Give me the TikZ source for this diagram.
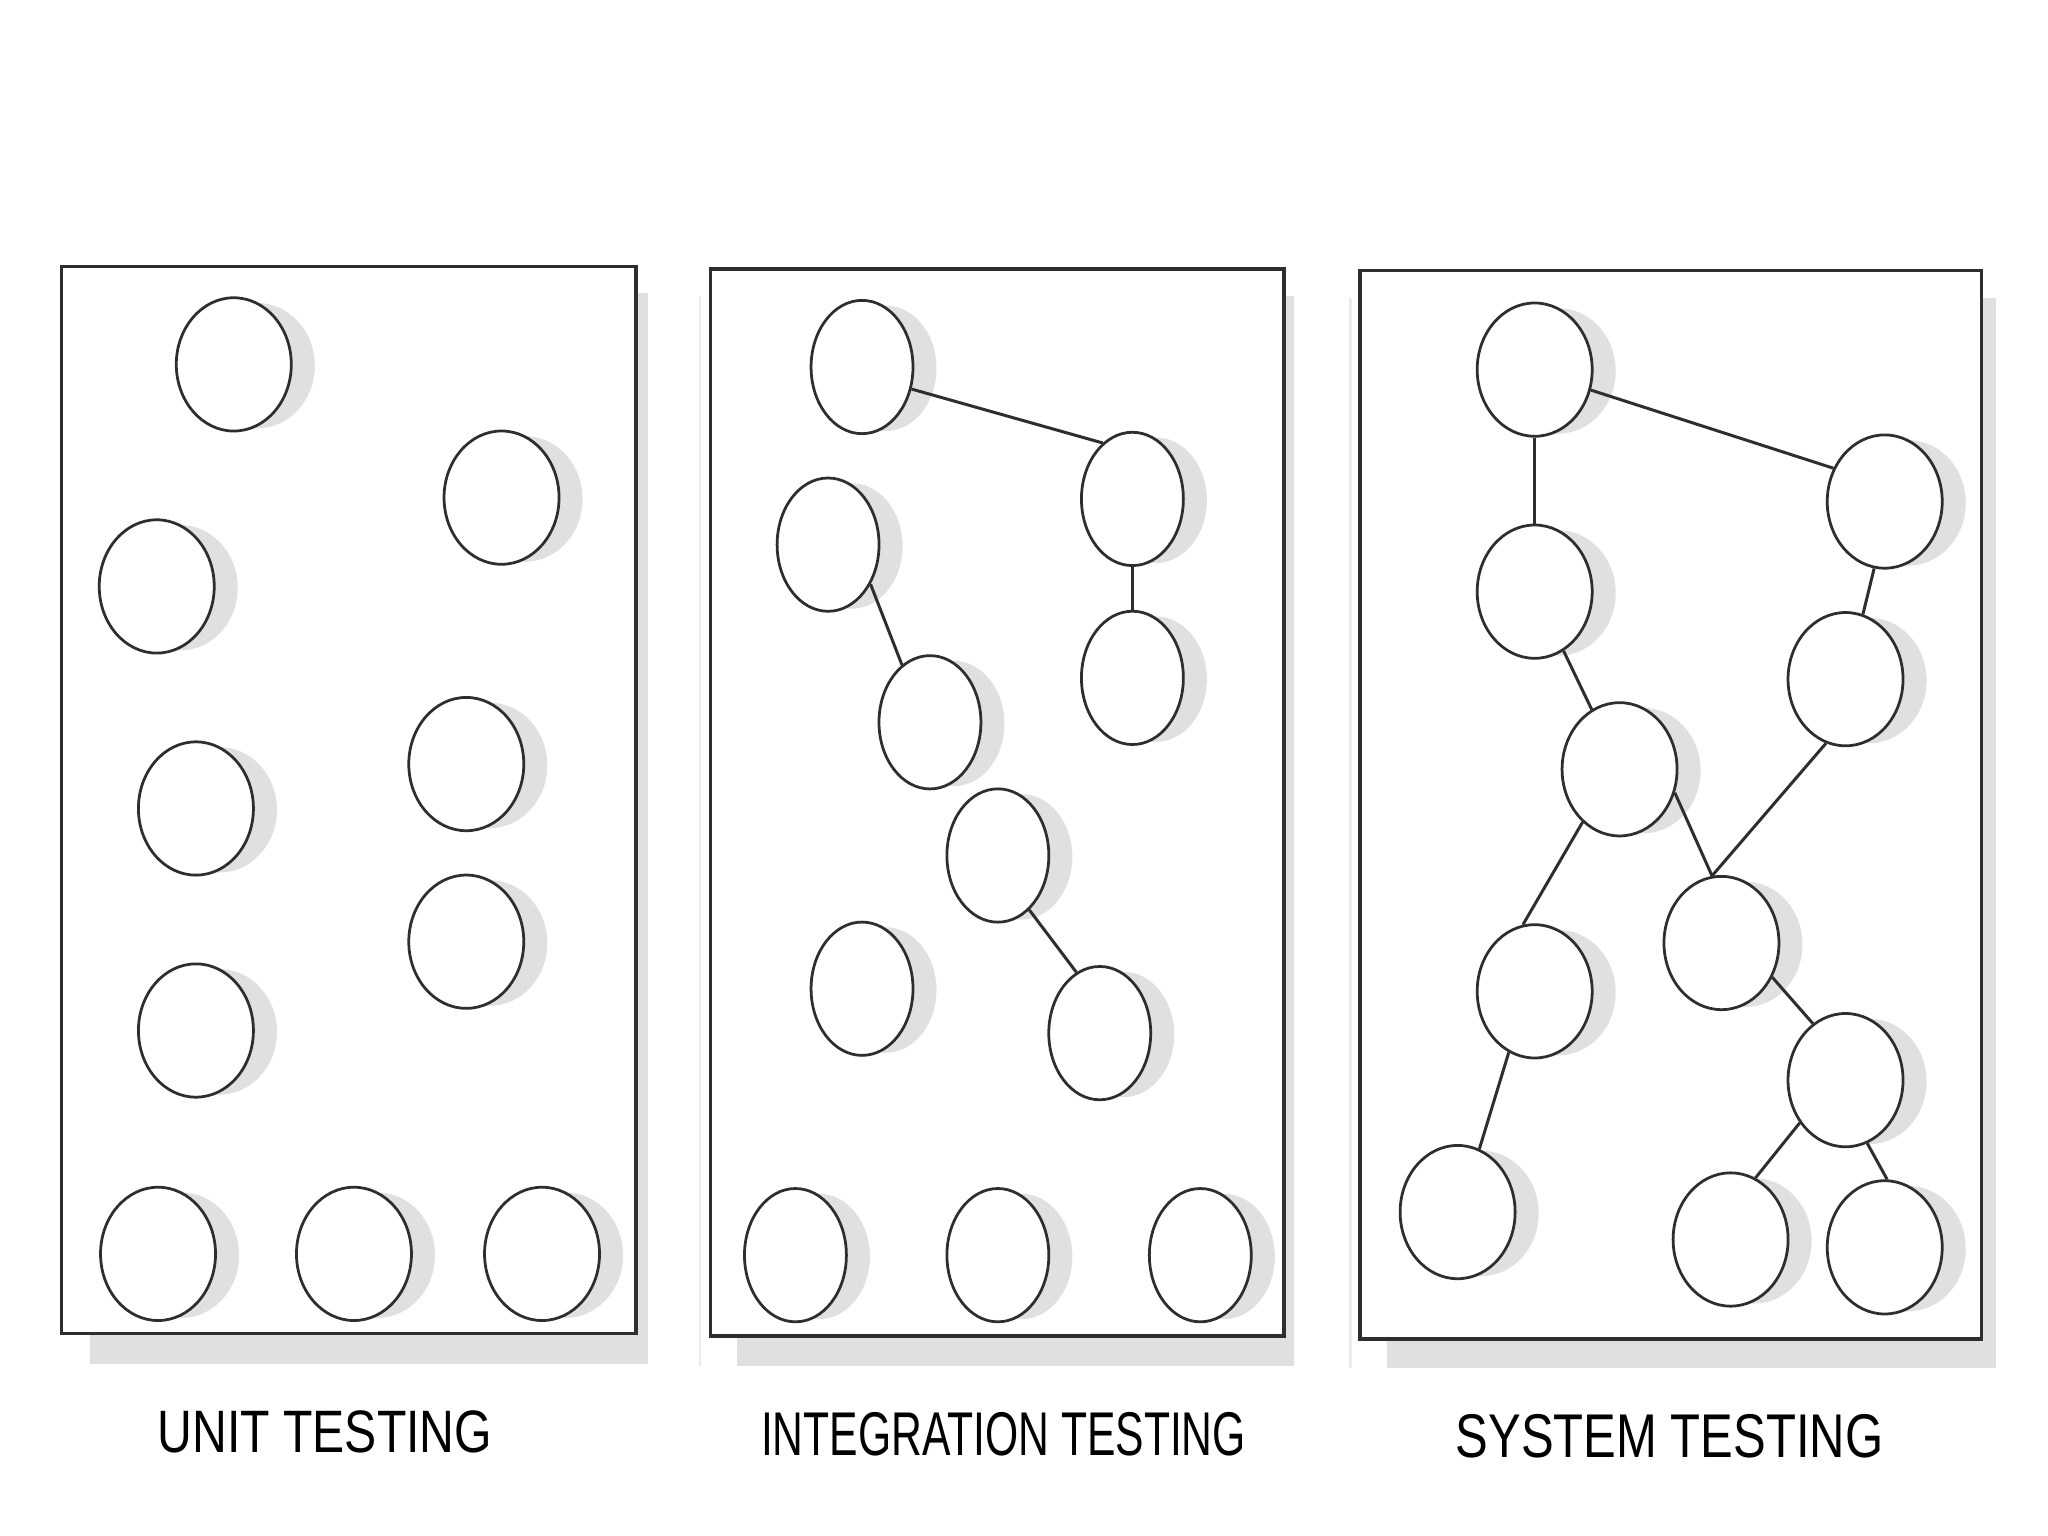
\documentclass[tikz,border=0pt]{standalone}
\usepackage{graphicx}
\usepackage{fontspec}
\setsansfont{Liberation Sans}
\usetikzlibrary{shapes.geometric}
\definecolor{shadowgray}{HTML}{E0E0E0}
\definecolor{ink}{HTML}{2E2E2E}
\newcommand\bubble[5][0.44]{%
  \fill[shadowgray] (#4+18,#5+1) ellipse [x radius=#1cm, y radius=0.48cm];
  \node[#2] (#3) at (#4,#5) {};}
\begin{document}
\begin{tikzpicture}[x=0.01cm,y=-0.01cm,
  frame/.style={draw=ink,line width=0.8pt,fill=white},
  nd/.style={ellipse,draw=ink,line width=0.6pt,fill=white,minimum width=0.88cm,minimum height=1.02cm,inner sep=0pt},
  nn/.style={nd,minimum width=0.78cm},
  link/.style={draw=ink,line width=0.65pt},
  lbl/.style={inner sep=0pt,anchor=base west}]

\useasboundingbox[fill=white] (0,0) rectangle (1568,1176);

% panel frames with shadows
\fill[shadowgray] (69,224) rectangle (496,1044);
\draw[frame] (47,204) rectangle (487,1021);

\draw[gray!15,line width=0.5pt] (536,227) -- (536,1046);
\fill[shadowgray] (564,227) rectangle (991,1046);
\draw[frame] (544,206) rectangle (983,1023);

\draw[gray!15,line width=0.5pt] (1034,228) -- (1034,1047);
\fill[shadowgray] (1062,228) rectangle (1528,1047);
\draw[frame] (1041,207) rectangle (1517,1025);

% panel 1: unit testing
\bubble{nd}{u1}{179}{279}
\bubble{nd}{u2}{384}{381}
\bubble{nd}{u3}{120}{449}
\bubble{nd}{u4}{357}{585}
\bubble{nd}{u5}{150}{619}
\bubble{nd}{u6}{357}{721}
\bubble{nd}{u7}{150}{789}
\bubble{nd}{u8}{121}{960}
\bubble{nd}{u9}{271}{960}
\bubble{nd}{u10}{415}{960}

% panel 2: integration testing
\bubble[0.39]{nn}{i1}{660}{281}
\bubble[0.39]{nn}{i2}{867}{382}
\bubble[0.39]{nn}{i3}{634}{417}
\bubble[0.39]{nn}{i4}{867}{519}
\bubble[0.39]{nn}{i5}{712}{553}
\bubble[0.39]{nn}{i6}{764}{655}
\bubble[0.39]{nn}{i7}{660}{757}
\bubble[0.39]{nn}{i8}{842}{791}
\bubble[0.39]{nn}{i9}{609}{961}
\bubble[0.39]{nn}{i10}{764}{961}
\bubble[0.39]{nn}{i11}{919}{961}

\draw[link] (i1.336) -- (i2.118);
\draw[link] (i2) -- (i4);
\draw[link] (i3.317) -- (i5.116);
\draw[link] (i6.300) -- (i8.111);

% panel 3: system testing
\bubble{nd}{sA}{1175}{283}
\bubble{nd}{sB}{1443}{384}
\bubble{nd}{sC}{1175}{453}
\bubble{nd}{sD}{1413}{520}
\bubble{nd}{sE}{1240}{589}
\bubble{nd}{sF}{1318}{722}
\bubble{nd}{sG}{1175}{759}
\bubble{nd}{sH}{1413}{827}
\bubble{nd}{sI}{1116}{928}
\bubble{nd}{sJ}{1325}{949}
\bubble{nd}{sK}{1443}{955}

\draw[link] (sA.340) -- (sB.147);
\draw[link] (sA) -- (sC);
\draw[link] (sB.261) -- (sD.75);
\draw[link] (sC.296) -- (sE.115);
\draw[link] (sE.337) -- (sF.98);
\draw[link] (sD.253) -- (sF.98);
\draw[link] (sE.235) -- (sG.100);
\draw[link] (sG.247) -- (sI.71);
\draw[link] (sF.326) -- (sH.120);
\draw[link] (sH.223) -- (sJ.68);
\draw[link] (sH.289) -- (sK.88);

% labels
\node[lbl] (t1) at (120,1112) {\resizebox{2.56cm}{0.32cm}{\sffamily UNIT TESTING}};
\node[lbl] (t2) at (582,1114) {\resizebox{3.71cm}{0.33cm}{\sffamily INTEGRATION TESTING}};
\node[lbl] (t3) at (1114,1116) {\resizebox{3.27cm}{0.33cm}{\sffamily SYSTEM TESTING}};
\end{tikzpicture}
\end{document}
